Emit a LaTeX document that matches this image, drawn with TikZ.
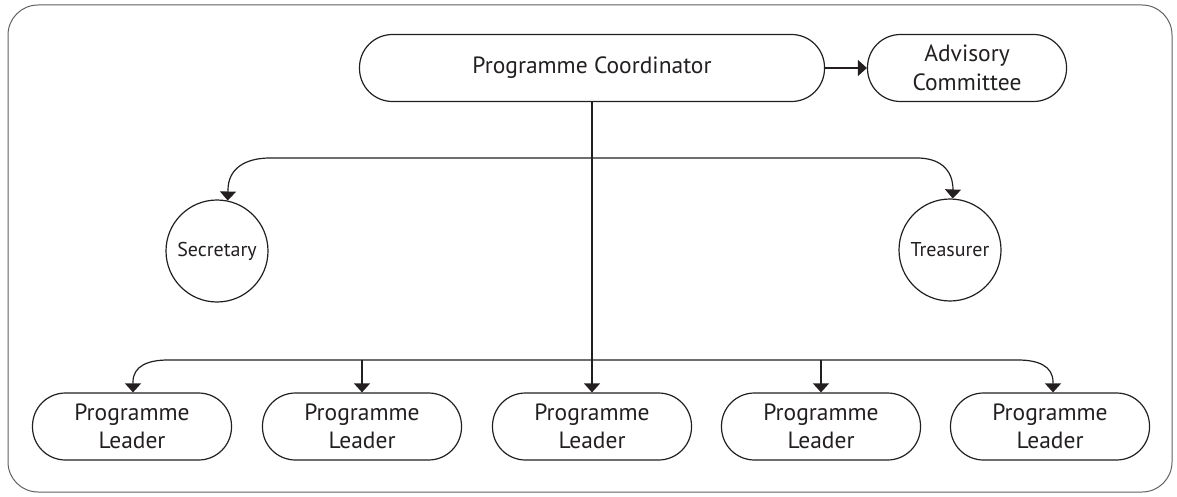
\documentclass[tikz,border=0pt]{standalone}
\usepackage{fontspec}
\setmainfont{PT Sans}
\usetikzlibrary{arrows.meta}
\definecolor{ink}{HTML}{231F20}
\begin{document}
\begin{tikzpicture}[x=1pt,y=-1pt,
  pill/.style={draw=ink,line width=1.2pt,rectangle,rounded corners=33pt,minimum height=67pt,inner sep=0pt,align=center,text=ink,font=\fontsize{23.5}{28.5}\selectfont},
  circ/.style={draw=ink,line width=1.2pt,circle,minimum size=102pt,inner sep=0pt,align=center,text=ink,font=\fontsize{20}{24}\selectfont},
  conn/.style={draw=ink,line width=1.2pt},
  arr/.style={conn,-{Triangle[length=9pt,width=16pt]}}]
\useasboundingbox (0,0) rectangle (1177,497);
\draw[gray!75!black,line width=1pt,rounded corners=30pt] (8,5) rectangle (1172,492);
\node[pill,minimum width=465pt] (coord) at (592,68) {Programme Coordinator};
\node[pill,minimum width=199pt] (adv) at (967,68) {Advisory\\Committee};
\node[circ] (sec) at (217,251) {Secretary};
\node[circ] (tre) at (950,250) {Treasurer};
\node[pill,minimum width=199pt] (l1) at (132,426.5) {Programme\\Leader};
\node[pill,minimum width=199pt] (l2) at (362,426.5) {Programme\\Leader};
\node[pill,minimum width=199pt] (l3) at (592,426.5) {Programme\\Leader};
\node[pill,minimum width=199pt] (l4) at (821,426.5) {Programme\\Leader};
\node[pill,minimum width=199pt] (l5) at (1050,426.5) {Programme\\Leader};
\coordinate (hb) at (592,158);
\coordinate (hl) at (592,360);
% coordinator to advisory
\draw[arr] (coord.east) -- (adv.west);
% trunk
\draw[arr] (coord.south) -- (l3.north);
% secretary / treasurer
\draw[arr] (hb) -- (270,158) .. controls (246,158) and (228,168) .. (228,190) -- (sec.78);
\draw[arr] (hb) -- (917,158) .. controls (938,158) and (953,168) .. (953,190) -- (tre.87);
% leaders
\draw[arr] (hl) -- (168,360) .. controls (148,360) and (133,366) .. (133,382) -- (l1.north -| 133,0);
\draw[arr] (hl) -- (1018,360) .. controls (1038,360) and (1053,366) .. (1053,382) -- (l5.north -| 1053,0);
\draw[arr] (l2.north |- hl) -- (l2.north);
\draw[arr] (l4.north |- hl) -- (l4.north);
\end{tikzpicture}
\end{document}
